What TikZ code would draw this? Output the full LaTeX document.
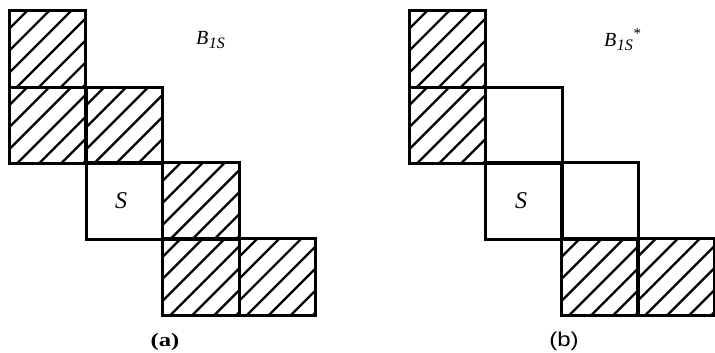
\documentclass[tikz,border=0pt]{standalone}
\usepackage{fontspec}
\setmainfont{Liberation Serif}
\newfontfamily\labsans{Liberation Sans}
\begin{document}
\begin{tikzpicture}[x=1pt,y=-1pt,
  cell/.style={draw=black, line width=2.6pt, minimum width=76.5pt, minimum height=76.5pt, inner sep=0pt, outer sep=0pt},
  hatched/.style={cell, path picture={
      \foreach \i in {-5,...,5}
        \draw[line width=2.2pt] ([xshift=7.5pt+\i*22pt]path picture bounding box.south west) -- ++(90pt,90pt);
    }},
  lab/.style={inner sep=0pt, font=\fontsize{20}{22}\selectfont}
]
\useasboundingbox (0,0) rectangle (715,353);
% (a)
\node[hatched] (a1) at (47.5,49) {};
\node[hatched] (a2) at (47.5,125.5) {};
\node[hatched] (a3) at (124.5,125.5) {};
\node[cell]    (a4) at (124.5,201) {};
\node[hatched] (a5) at (201,201) {};
\node[hatched] (a6) at (201,277) {};
\node[hatched] (a7) at (277.5,277) {};
\node[lab, font=\fontsize{24}{26}\selectfont] (aS) at (121,201) {\itshape S};
\node[lab, anchor=west] (aB) at (196,40) {\itshape B\kern0.5pt\raisebox{-4pt}{\fontsize{16}{18}\selectfont 1\itshape S}};
\node[lab, anchor=base, font=\fontsize{19}{21}\selectfont\bfseries] (acap) at (165,346) {\scalebox{1.3}[1]{(a)}};
% (b)
\node[hatched] (b1) at (447.5,49) {};
\node[hatched] (b2) at (447.5,125.5) {};
\node[cell]    (b3) at (524,125.5) {};
\node[cell]    (b4) at (524,201) {};
\node[cell]    (b5) at (600,201) {};
\node[hatched] (b6) at (600,277) {};
\node[hatched] (b7) at (676,277) {};
\node[lab, font=\fontsize{24}{26}\selectfont] (bS) at (521,201) {\itshape S};
\node[lab, anchor=west] (bB) at (604,40) {\itshape B\kern0.5pt\raisebox{-4pt}{\fontsize{16}{18}\selectfont 1\itshape S}\raisebox{8pt}{\fontsize{15}{16}\selectfont *}};
\node[lab, anchor=base, font=\fontsize{20}{22}\selectfont\labsans] (bcap) at (564,346) {\scalebox{1.2}[1]{(b)}};
\end{tikzpicture}
\end{document}
